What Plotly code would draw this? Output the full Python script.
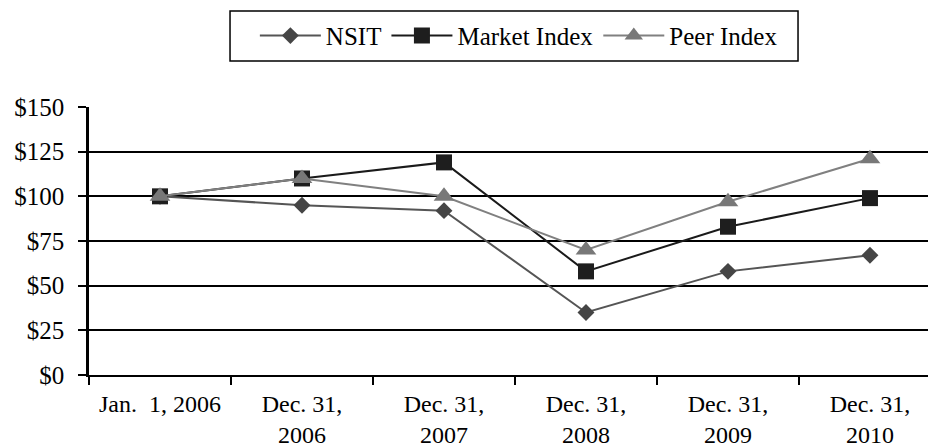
import plotly.graph_objects as go

categories = ["Jan.  1, 2006", "Dec. 31,<br>2006", "Dec. 31,<br>2007",
              "Dec. 31,<br>2008", "Dec. 31,<br>2009", "Dec. 31,<br>2010"]
nsit = [100, 95, 92, 35, 58, 67]
market_index = [100, 110, 119, 58, 83, 99]
peer_index = [100, 110, 100, 70, 97, 121]
y_ticks = [0, 25, 50, 75, 100, 125, 150]
y_labels = ["$0", "$25", "$50", "$75", "$100", "$125", "$150"]

FONT = "Liberation Serif"

fig = go.Figure()
fig.add_trace(go.Scatter(
    x=categories, y=nsit, name="NSIT", mode="lines+markers",
    line=dict(color="#555555", width=2),
    marker=dict(symbol="diamond", size=13, color="#454545"),
))
fig.add_trace(go.Scatter(
    x=categories, y=market_index, name="Market Index", mode="lines+markers",
    line=dict(color="#1a1a1a", width=2),
    marker=dict(symbol="square", size=16, color="#1e1e1e"),
))
fig.add_trace(go.Scatter(
    x=categories, y=peer_index, name="Peer Index", mode="lines+markers",
    line=dict(color="#808080", width=2),
    marker=dict(symbol="triangle-up", size=18, color="#787878"),
))

# legend frame (drawn as a shape so that it can have wider padding)
fig.add_shape(type="rect", xref="paper", yref="paper",
              x0=0.1665, x1=0.8371, y0=1.1716, y1=1.3582,
              line=dict(color="black", width=1.5), fillcolor="rgba(0,0,0,0)",
              layer="above")

fig.update_layout(
    width=928, height=440,
    margin=dict(l=81, r=0, t=99, b=73, autoexpand=False),
    paper_bgcolor="white", plot_bgcolor="white",
    font=dict(family=FONT, size=24, color="black"),
    showlegend=True,
    legend=dict(
        orientation="h", xref="container", yref="container",
        x=0.5505, xanchor="center", y=0.989, yanchor="top",
        borderwidth=0, bgcolor="rgba(0,0,0,0)",
        font=dict(family=FONT, size=25, color="black"),
        itemwidth=61, traceorder="normal",
    ),
    xaxis=dict(
        type="category", range=[-0.5, 5.465], automargin=False,
        tickson="boundaries", ticks="outside", ticklen=8, tickwidth=1.5,
        tickcolor="black", showline=True, linecolor="black", linewidth=1.5,
        showgrid=False, tickfont=dict(family=FONT, size=24), tickangle=0,
        ticklabelstandoff=6,
    ),
    yaxis=dict(
        range=[0, 150], tickvals=y_ticks, ticktext=y_labels, automargin=False,
        ticks="outside", ticklen=8, tickwidth=1.5, tickcolor="black",
        showline=True, linecolor="black", linewidth=2.5,
        showgrid=True, gridcolor="black", gridwidth=1.5,
        zeroline=False, tickfont=dict(family=FONT, size=25),
        ticklabelstandoff=9,
    ),
)

fig.write_html("out.html")
